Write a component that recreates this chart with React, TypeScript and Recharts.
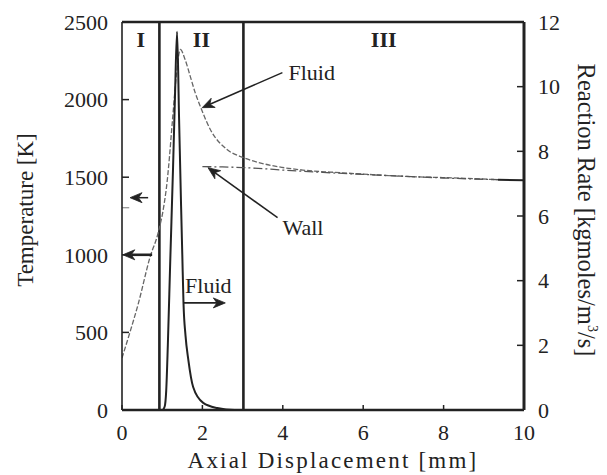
import React from 'react';
import { ComposedChart, Line, XAxis, YAxis, ReferenceLine, ReferenceDot, Label } from 'recharts';

const FONT = "'Liberation Serif', 'Times New Roman', serif";
const INK = '#222';

// ticks
const xTicks = [0, 2, 4, 6, 8, 10];
const tempTicks = [0, 500, 1000, 1500, 2000, 2500];
const rateTicks = [0, 2, 4, 6, 8, 10, 12];

// Fluid temperature [K] vs axial displacement [mm]
const fluidX = [0, 0.2, 0.4, 0.7, 0.9, 1.05, 1.12, 1.16, 1.25, 1.35, 1.45, 1.57, 1.7, 1.82, 1.95, 2.2, 2.62, 3.02, 3.5, 3.87, 4.5, 5.44, 7, 8.5, 9.35];
const fluidT = [335, 503, 680, 987, 1142, 1330, 1465, 1570, 1850, 2150, 2323, 2258, 2148, 2045, 1955, 1806, 1677, 1626, 1588, 1568, 1546, 1529, 1506, 1493, 1484];

// Wall temperature [K]
const wallX = [2.0, 2.5, 3.0, 3.5, 4.0, 5.0, 6.0, 7.0, 8.0, 9.35];
const wallT = [1568, 1566, 1562, 1555, 1546, 1531, 1518, 1506, 1495, 1484];
const wallLeftX = [0, 0.18];
const wallLeftT = [1303, 1303];
const tailX = [9.35, 10];
const tailT = [1484, 1480];

// Reaction rate [kgmoles/m^3/s]
const rateX = [0, 1.0, 1.06, 1.1, 1.14, 1.2, 1.27, 1.32, 1.37, 1.42, 1.47, 1.5, 1.53, 1.58, 1.65, 1.77, 2.02, 2.37, 2.8, 10];
const rateV = [0, 0, 0.1, 0.6, 2.0, 4.6, 7.5, 9.8, 11.7, 9.0, 6.3, 4.8, 3.3, 2.3, 1.55, 0.71, 0.22, 0.06, 0, 0];

// regions
const regionBounds = [0.93, 3.02];
const regionNames = ['I', 'II', 'III'];
const regionCenters = [0.465, 1.975, 6.51];
const regionLabelT = 2342;

// annotations (data coordinates)
const noteTexts = ['Fluid', 'Wall', 'Fluid'];
const noteX = [4.14, 3.99, 1.57];
const noteT = [2129, 1129, 755];
const arrowFrom = [
  { x: 3.99, y: 2174 },
  { x: 3.87, y: 1239 },
  { x: 1.52, y: 690 },
  { x: 0.65, y: 1368 },
  { x: 0.75, y: 1000 },
];
const arrowTo = [
  { x: 1.995, y: 1948 },
  { x: 2.14, y: 1561 },
  { x: 2.57, y: 690 },
  { x: 0.2, y: 1368 },
  { x: 0.02, y: 1000 },
];
const arrowWidth = [1.5, 1.5, 1.8, 1.5, 2.6];

const toXY = (xs: number[], ys: number[], key: string) => xs.map((x, i) => ({ x, [key]: ys[i] }));
const fluidData = toXY(fluidX, fluidT, 't');
const wallData = toXY(wallX, wallT, 't');
const wallLeftData = toXY(wallLeftX, wallLeftT, 't');
const tailData = toXY(tailX, tailT, 't');
const rateData = toXY(rateX, rateV, 'r');

const makeArrow = (w: number) => (p: any) => {
  const { x1, y1, x2, y2 } = p;
  if (![x1, y1, x2, y2].every((v) => typeof v === 'number' && isFinite(v))) return <g />;
  const dx = x2 - x1;
  const dy = y2 - y1;
  const L = Math.hypot(dx, dy) || 1;
  const ux = dx / L;
  const uy = dy / L;
  const hl = 12;
  const hw = 5;
  const bx = x2 - ux * hl;
  const by = y2 - uy * hl;
  const nx = x2 - ux * hl * 0.7;
  const ny = y2 - uy * hl * 0.7;
  const pts = `${x2},${y2} ${bx - uy * hw},${by + ux * hw} ${nx},${ny} ${bx + uy * hw},${by - ux * hw}`;
  return (
    <g>
      <line x1={x1} y1={y1} x2={nx} y2={ny} stroke={INK} strokeWidth={w} />
      <polygon points={pts} fill={INK} stroke={INK} strokeWidth={0.8} />
    </g>
  );
};

const textShape = (txt: string, size: number, weight: string | number = 'normal', anchor: string = 'start') => (p: any) => (
  <text x={p.cx} y={p.cy} textAnchor={anchor} fontFamily={FONT} fontSize={size} fontWeight={weight} fill={INK}>
    {txt}
  </text>
);

const leftTitle = (props: any) => {
  const vb = props.viewBox || { x: 0, y: 22, width: 122, height: 388 };
  const x = vb.x + 33;
  const y = vb.y + vb.height / 2 - 6;
  return (
    <text x={x} y={y} transform={`rotate(-90, ${x}, ${y})`} textAnchor="middle" fontFamily={FONT} fontSize={23} fill={INK}>
      Temperature [K]
    </text>
  );
};

const rightTitle = (props: any) => {
  const vb = props.viewBox || { x: 524, y: 22, width: 83, height: 388 };
  const x = vb.x + 54;
  const y = vb.y + vb.height / 2 - 6;
  return (
    <text x={x} y={y} transform={`rotate(90, ${x}, ${y})`} textAnchor="middle" fontFamily={FONT} fontSize={24.5} fill={INK}>
      Reaction Rate [kgmoles/m
      <tspan fontSize={14} dy={-10}>3</tspan>
      <tspan dy={10}>/s]</tspan>
    </text>
  );
};

const bottomTitle = (props: any) => {
  const vb = props.viewBox || { x: 122, y: 410, width: 402, height: 65 };
  const x = vb.x + vb.width / 2 + 10;
  const y = vb.y + 58;
  return (
    <text x={x} y={y} textAnchor="middle" fontFamily={FONT} fontSize={23} letterSpacing={2.2} fill={INK}>
      Axial Displacement [mm]
    </text>
  );
};

const tickStyle = { fontFamily: FONT, fontSize: 22, fill: INK };

export default function App() {
  return (
    <div style={{ position: 'absolute', left: 0, top: 0, width: 607, height: 475, background: '#fff' }}>
      <ComposedChart width={607} height={475} margin={{ top: 22, right: 0, bottom: 0, left: 0 }}>
        <XAxis
          type="number"
          dataKey="x"
          domain={[0, 10]}
          ticks={xTicks}
          allowDataOverflow
          height={65}
          tickSize={-5}
          tickMargin={19}
          tick={tickStyle}
          axisLine={{ stroke: INK, strokeWidth: 2.6 }}
          tickLine={{ stroke: INK, strokeWidth: 1.5 }}
        >
          <Label content={bottomTitle} />
        </XAxis>
        <YAxis
          yAxisId="left"
          orientation="left"
          type="number"
          domain={[0, 2500]}
          ticks={tempTicks}
          allowDataOverflow
          width={122}
          tickSize={-7}
          tickMargin={21}
          tick={tickStyle}
          axisLine={{ stroke: INK, strokeWidth: 1.6 }}
          tickLine={{ stroke: INK, strokeWidth: 1.5 }}
        >
          <Label content={leftTitle} />
        </YAxis>
        <YAxis
          yAxisId="right"
          orientation="right"
          type="number"
          domain={[0, 12]}
          ticks={rateTicks}
          allowDataOverflow
          width={83}
          tickSize={-7}
          tickMargin={21}
          tick={tickStyle}
          axisLine={{ stroke: INK, strokeWidth: 3 }}
          tickLine={{ stroke: INK, strokeWidth: 1.5 }}
        >
          <Label content={rightTitle} />
        </YAxis>

        <ReferenceLine yAxisId="left" y={2500} stroke={INK} strokeWidth={2.4} />
        {regionBounds.map((b) => (
          <ReferenceLine key={`rb${b}`} yAxisId="left" x={b} stroke={INK} strokeWidth={2.6} />
        ))}

        <Line data={wallLeftData} yAxisId="left" dataKey="t" type="linear" stroke="#777" strokeWidth={1} dot={false} activeDot={false} isAnimationActive={false} />
        <Line data={fluidData} yAxisId="left" dataKey="t" type="monotone" stroke="#666" strokeWidth={1.3} strokeDasharray="5 2" dot={false} activeDot={false} isAnimationActive={false} />
        <Line data={wallData} yAxisId="left" dataKey="t" type="monotone" stroke="#555" strokeWidth={1.3} strokeDasharray="9 3 2 3" dot={false} activeDot={false} isAnimationActive={false} />
        <Line data={tailData} yAxisId="left" dataKey="t" type="linear" stroke={INK} strokeWidth={2} dot={false} activeDot={false} isAnimationActive={false} />
        <Line data={rateData} yAxisId="right" dataKey="r" type="monotone" stroke={INK} strokeWidth={2} dot={false} activeDot={false} isAnimationActive={false} />

        {regionNames.map((n, i) => (
          <ReferenceDot key={`rn${i}`} yAxisId="left" x={regionCenters[i]} y={regionLabelT} r={0} shape={textShape(n, 22, 'bold', 'middle')} />
        ))}
        {noteTexts.map((n, i) => (
          <ReferenceDot key={`nt${i}`} yAxisId="left" x={noteX[i]} y={noteT[i]} r={0} shape={textShape(n, 22)} />
        ))}
        {arrowFrom.map((f, i) => (
          <ReferenceLine key={`ar${i}`} yAxisId="left" segment={[f, arrowTo[i]]} shape={makeArrow(arrowWidth[i])} />
        ))}
      </ComposedChart>
    </div>
  );
}
